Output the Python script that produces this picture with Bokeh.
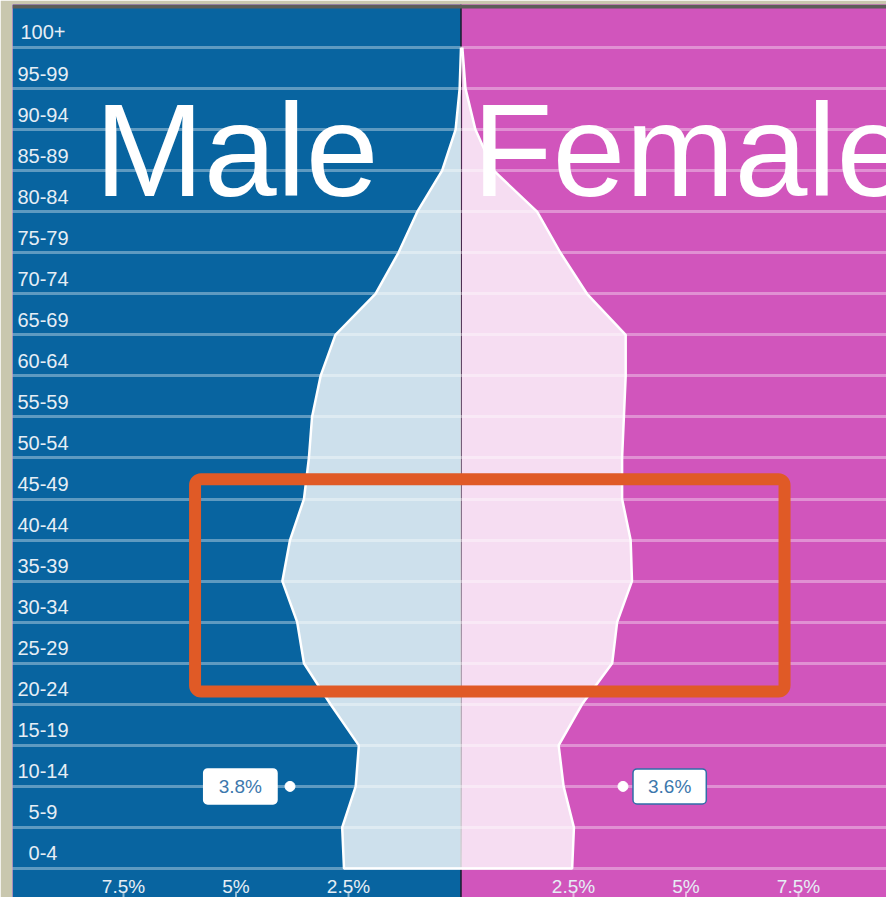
from bokeh.plotting import figure
from bokeh.models import Range1d, BoxAnnotation, Span, FixedTicker, Label
from bokeh.core.properties import value
from bokeh.embed import file_html
from bokeh.resources import INLINE

# ---- data ----
ages = ["0-4", "5-9", "10-14", "15-19", "20-24", "25-29", "30-34", "35-39",
        "40-44", "45-49", "50-54", "55-59", "60-64", "65-69", "70-74",
        "75-79", "80-84", "85-89", "90-94", "95-99", "100+"]
male = [2.60, 2.64, 2.34, 2.27, 2.90, 3.49, 3.64, 3.97, 3.80, 3.49, 3.38,
        3.31, 3.12, 2.79, 1.90, 1.39, 0.97, 0.42, 0.12, 0.03, 0.0]
female = [2.47, 2.51, 2.28, 2.17, 2.69, 3.36, 3.47, 3.80, 3.77, 3.58, 3.58,
          3.62, 3.66, 3.66, 2.80, 2.21, 1.69, 0.73, 0.32, 0.10, 0.03]
tick_values = [-7.5, -5, -2.5, 2.5, 5, 7.5]
tick_labels = ["7.5%", "5%", "2.5%", "2.5%", "5%", "7.5%"]
hover_age = "10-14"
hover_male = 3.8
hover_female = 3.6

BLUE = "#0864a0"
PINK = "#d155bc"
BEIGE = "#c9c7ae"
FONT = "Liberation Sans"

idx = list(range(len(ages)))
hy = ages.index(hover_age)

p = figure(width=886, height=897,
           x_range=Range1d(-9.967, 9.456), y_range=Range1d(-0.7065, 21.0475),
           x_axis_location=None, y_axis_location=None,
           toolbar_location=None, output_backend="svg",
           min_border=0, min_border_left=12, min_border_top=4,
           border_fill_color=BEIGE, outline_line_color=None,
           background_fill_color=PINK)

# side backgrounds
p.add_layout(BoxAnnotation(right=0, fill_color=BLUE, fill_alpha=1.0,
                           line_color=None, level="underlay"))
p.add_layout(BoxAnnotation(left=0, fill_color=PINK, fill_alpha=1.0,
                           line_color=None, level="underlay"))
p.add_layout(Span(location=0, dimension="height", line_color="#1c1c2a",
                  line_width=1.5, level="underlay"))
# thin dark top rule
p.add_layout(BoxAnnotation(bottom=20.95, fill_color="#5d5d58", fill_alpha=1.0,
                           line_color=None, level="annotation"))

# grid
p.xgrid.visible = False
p.ygrid.ticker = FixedTicker(ticks=idx)
p.ygrid.grid_line_color = "white"
p.ygrid.grid_line_alpha = 0.35
p.ygrid.grid_line_width = 3
p.ygrid.level = "guide"

# big titles
p.text(x=[-8.14], y=[17.49], text=["Male"], text_color="white",
       text_font=value(FONT), text_font_size="131px",
       text_align="left", text_baseline="alphabetic")
p.text(x=[0.256], y=[17.49], text=["Female"], text_color="white",
       text_font=value(FONT), text_font_size="131px",
       text_align="left", text_baseline="alphabetic")

# pyramid areas
mx = [0] + [-v for v in male]
fx = [0] + list(female)
yy = [idx[0]] + idx
p.patch(mx, yy, fill_color="white", fill_alpha=0.8, line_color=None)
p.patch(fx, yy, fill_color="white", fill_alpha=0.8, line_color=None)
p.line(mx, yy, line_color="white", line_width=2.5)
p.line(fx, yy, line_color="white", line_width=2.5)

# age labels
p.text(x=-9.29, y=idx, text=ages, text_color="#e6eef5",
       text_font=value(FONT), text_font_size="20px",
       text_align="center", text_baseline="middle", y_offset=-15)

# bottom tick labels / ticks
p.segment(x0=tick_values, y0=-0.56, x1=tick_values, y1=-0.71,
          line_color="white", line_alpha=0.55, line_width=2)
p.text(x=tick_values, y=-0.43, text=tick_labels, text_color="#e6eef5",
       text_font=value(FONT), text_font_size="19px",
       text_align="center", text_baseline="middle")

# hover markers + tooltips
p.scatter(x=[-hover_male, hover_female], y=[hy, hy], size=10,
          fill_color="white", line_color="white")
p.add_layout(Label(x=-hover_male, y=hy, x_offset=-13, text="%.1f%%" % hover_male,
                   text_align="right", text_baseline="middle",
                   text_color="#3d78ad", text_font=FONT, text_font_size="19px",
                   background_fill_color="white", border_line_color="white",
                   border_line_width=1.5, padding=(15, 7), border_radius=4))
p.add_layout(Label(x=hover_female, y=hy, x_offset=10, text="%.1f%%" % hover_female,
                   text_align="left", text_baseline="middle",
                   text_color="#3d78ad", text_font=FONT, text_font_size="19px",
                   background_fill_color="white", border_line_color="#2f6ea8",
                   border_line_width=1.5, padding=(15, 7), border_radius=4))

# highlight box
p.add_layout(BoxAnnotation(left=-5.91, right=7.19, bottom=4.31, top=9.48,
                           fill_alpha=0, line_color="#e05a26", line_alpha=1.0,
                           line_width=12, border_radius=6, level="overlay"))

html = file_html(p, INLINE)
html = html.replace("<body>", '<body style="background-color:%s;">' % BEIGE, 1)
open("out.html", "w").write(html)
